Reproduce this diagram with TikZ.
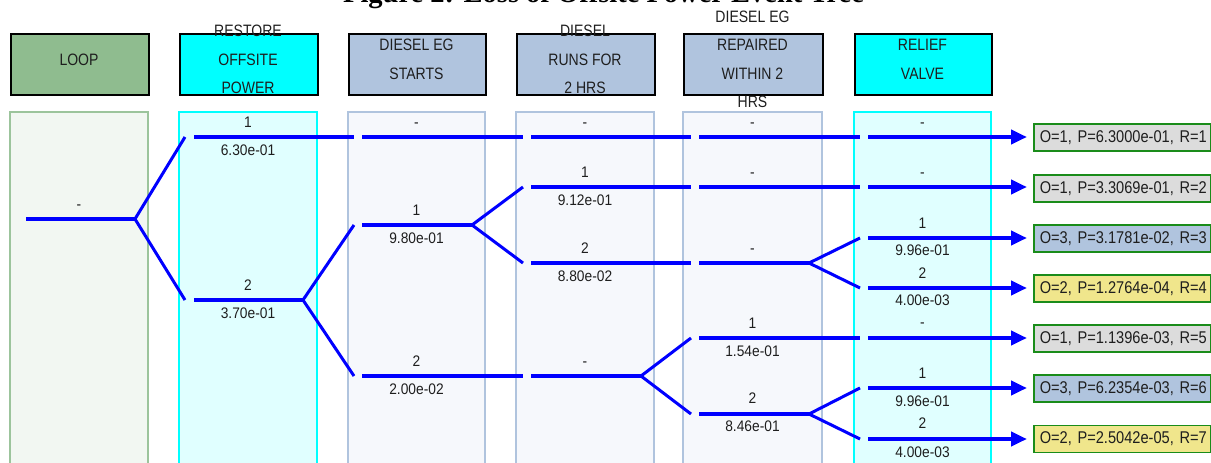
\documentclass[tikz,border=0pt]{standalone}
\usepackage{fontspec}
\setmainfont{Liberation Sans}[FakeStretch=0.9]
\newfontfamily\hdrfont{Liberation Sans}[FakeStretch=0.85]
\newfontfamily\outfont{Liberation Sans}[FakeStretch=0.86]
\newfontfamily\titlefont{Liberation Serif}
\usetikzlibrary{arrows.meta}

% palette
\definecolor{loopfill}{HTML}{8FBC8F}
\definecolor{loopbody}{HTML}{F2F7F2}
\definecolor{loopedge}{HTML}{9CC49C}
\definecolor{cyanfill}{HTML}{00FFFF}
\definecolor{cyanbody}{HTML}{E0FFFF}
\definecolor{lsbfill}{HTML}{B0C4DE}
\definecolor{lsbbody}{HTML}{F6F8FC}
\definecolor{endgray}{HTML}{DCDCDC}
\definecolor{endkhaki}{HTML}{F0E68C}
\definecolor{endedge}{HTML}{1A8C1A}
\definecolor{branchblue}{HTML}{0000FF}
\definecolor{ink}{HTML}{1E1E1E}

\tikzset{
  hdrbox/.style={draw=black, line width=2pt, minimum width=138pt, minimum height=61pt, inner sep=0pt, anchor=north west},
  hdrtext/.style={align=center, inner sep=0pt, text=ink, font=\hdrfont\fontsize{16.5}{28.5}\selectfont},
  colbody/.style={line width=2pt},
  branch/.style={draw=branchblue, line width=4.5pt},
  diag/.style={draw=branchblue, line width=3pt},
  outarrow/.style={draw=branchblue, line width=4.5pt, -{Triangle[length=16pt, width=14pt]}},
  lbl/.style={anchor=base, inner sep=0pt, text=ink, font=\fontsize{15.3}{17}\selectfont},
  outbox/.style={draw=endedge, line width=1.6pt, anchor=west, minimum height=27pt, text width=165pt, inner xsep=6pt, inner ysep=0pt, align=left, text=ink, font=\outfont\fontsize{17}{19}\selectfont},
}

\begin{document}
\begin{tikzpicture}[x=1pt, y=-1pt]
\useasboundingbox (0,0) rectangle (1211,463);
\clip (0,0) rectangle (1211,463);

% caption above the tree
\node[anchor=base, inner sep=0pt, font=\titlefont\bfseries\fontsize{28.5}{30}\selectfont] (title) at (603.5,2.5) {Figure 2: Loss of Offsite Power Event Tree};

% column bodies
\draw[colbody, draw=loopedge, fill=loopbody] (10,112) rectangle (148,480);
\draw[colbody, draw=cyanfill, fill=cyanbody] (179,112) rectangle (317,480);
\draw[colbody, draw=lsbfill, fill=lsbbody] (348,112) rectangle (485,480);
\draw[colbody, draw=lsbfill, fill=lsbbody] (516,112) rectangle (654,480);
\draw[colbody, draw=lsbfill, fill=lsbbody] (683,112) rectangle (822,480);
\draw[colbody, draw=cyanfill, fill=cyanbody] (854,112) rectangle (991,480);

% column headers
\node[hdrbox, fill=loopfill] (h1) at (10,33) {};
\node[hdrbox, fill=cyanfill] (h2) at (179,33) {};
\node[hdrbox, fill=lsbfill, minimum width=137pt] (h3) at (348,33) {};
\node[hdrbox, fill=lsbfill] (h4) at (516,33) {};
\node[hdrbox, fill=lsbfill, minimum width=139pt] (h5) at (683,33) {};
\node[hdrbox, fill=cyanfill, minimum width=137pt] (h6) at (854,33) {};
\node[hdrtext] (t1) at (79,59.5) {LOOP};
\node[hdrtext] (t2) at (248,59.5) {RESTORE\\OFFSITE\\POWER};
\node[hdrtext] (t3) at (416.5,59.5) {DIESEL EG\\STARTS};
\node[hdrtext] (t4) at (585,59.5) {DIESEL\\RUNS FOR\\2 HRS};
\node[hdrtext] (t5) at (752.5,59.5) {DIESEL EG\\REPAIRED\\WITHIN 2\\HRS};
\node[hdrtext] (t6) at (922.5,59.5) {RELIEF\\VALVE};

% ---- branch points ----
% initiating event
\coordinate (l0a) at (26,219);   \coordinate (l0b) at (135,219);
% restore offsite power
\coordinate (d1u) at (185,137);  \coordinate (d1d) at (185,300);
\coordinate (r1a) at (194,137);  \coordinate (r1b) at (354,137);
\coordinate (r2a) at (194,300);  \coordinate (r2b) at (303,300);
% diesel EG starts
\coordinate (s0a) at (362,137);  \coordinate (s0b) at (523,137);
\coordinate (d2u) at (354,225);  \coordinate (d2d) at (354,376);
\coordinate (s1a) at (362,225);  \coordinate (s1b) at (472,225);
\coordinate (s2a) at (362,376);  \coordinate (s2b) at (523,376);
% diesel runs
\coordinate (u0a) at (531,137);  \coordinate (u0b) at (691,137);
\coordinate (d3u) at (523,187);  \coordinate (d3d) at (523,263);
\coordinate (u1a) at (531,187);  \coordinate (u1b) at (691,187);
\coordinate (u2a) at (531,263);  \coordinate (u2b) at (691,263);
\coordinate (u3a) at (531,376);  \coordinate (u3b) at (641,376);
% repaired within 2 hrs
\coordinate (p0a) at (699,137);  \coordinate (p0b) at (860,137);
\coordinate (p1a) at (699,187);  \coordinate (p1b) at (860,187);
\coordinate (p2a) at (699,263);  \coordinate (p2b) at (809,263);
\coordinate (d4u) at (691,338);  \coordinate (d4d) at (691,414);
\coordinate (p3a) at (699,338);  \coordinate (p3b) at (860,338);
\coordinate (p4a) at (699,414);  \coordinate (p4b) at (809,414);
% relief valve
\coordinate (d5u) at (860,238);  \coordinate (d5d) at (860,288);
\coordinate (d6u) at (860,388);  \coordinate (d6d) at (860,439);
\coordinate (v1a) at (868,137);  \coordinate (v2a) at (868,187);
\coordinate (v3a) at (868,238);  \coordinate (v4a) at (868,288);
\coordinate (v5a) at (868,338);  \coordinate (v6a) at (868,388);
\coordinate (v7a) at (868,439);

% end states
\node[outbox, fill=endgray]  (e1) at (1033,137.5) {\mbox{O=1, P=6.3000e-01, R=1}};
\node[outbox, fill=endgray]  (e2) at (1033,188.5) {\mbox{O=1, P=3.3069e-01, R=2}};
\node[outbox, fill=lsbfill]  (e3) at (1033,238.5) {\mbox{O=3, P=3.1781e-02, R=3}};
\node[outbox, fill=endkhaki] (e4) at (1033,288.5) {\mbox{O=2, P=1.2764e-04, R=4}};
\node[outbox, fill=endgray]  (e5) at (1033,338.5) {\mbox{O=1, P=1.1396e-03, R=5}};
\node[outbox, fill=lsbfill]  (e6) at (1033,388.5) {\mbox{O=3, P=6.2354e-03, R=6}};
\node[outbox, fill=endkhaki] (e7) at (1033,439) {\mbox{O=2, P=2.5042e-05, R=7}};

% horizontal branches
\draw[branch] (l0a) -- (l0b);
\draw[branch] (r1a) -- (r1b);
\draw[branch] (r2a) -- (r2b);
\draw[branch] (s0a) -- (s0b);
\draw[branch] (s1a) -- (s1b);
\draw[branch] (s2a) -- (s2b);
\draw[branch] (u0a) -- (u0b);
\draw[branch] (u1a) -- (u1b);
\draw[branch] (u2a) -- (u2b);
\draw[branch] (u3a) -- (u3b);
\draw[branch] (p0a) -- (p0b);
\draw[branch] (p1a) -- (p1b);
\draw[branch] (p2a) -- (p2b);
\draw[branch] (p3a) -- (p3b);
\draw[branch] (p4a) -- (p4b);

% splits
\draw[diag] (d1u) -- (l0b) -- (d1d);
\draw[diag] (d2u) -- (r2b) -- (d2d);
\draw[diag] (d3u) -- (s1b) -- (d3d);
\draw[diag] (d4u) -- (u3b) -- (d4d);
\draw[diag] (d5u) -- (p2b) -- (d5d);
\draw[diag] (d6u) -- (p4b) -- (d6d);

% arrows into the end states
\draw[outarrow] (v1a) -- ([xshift=-6pt]v1a -| e1.west);
\draw[outarrow] (v2a) -- ([xshift=-6pt]v2a -| e2.west);
\draw[outarrow] (v3a) -- ([xshift=-6pt]v3a -| e3.west);
\draw[outarrow] (v4a) -- ([xshift=-6pt]v4a -| e4.west);
\draw[outarrow] (v5a) -- ([xshift=-6pt]v5a -| e5.west);
\draw[outarrow] (v6a) -- ([xshift=-6pt]v6a -| e6.west);
\draw[outarrow] (v7a) -- ([xshift=-6pt]v7a -| e7.west);

% branch labels
\node[lbl] (n0)  at (79,209)    {-};
\node[lbl] (n1)  at (248,127)   {1};
\node[lbl] (n1p) at (248,155)   {6.30e-01};
\node[lbl] (n2)  at (248,290)   {2};
\node[lbl] (n2p) at (248,318)   {3.70e-01};
\node[lbl] (n3)  at (416.5,127) {-};
\node[lbl] (n4)  at (416.5,215) {1};
\node[lbl] (n4p) at (416.5,243) {9.80e-01};
\node[lbl] (n5)  at (416.5,366) {2};
\node[lbl] (n5p) at (416.5,394) {2.00e-02};
\node[lbl] (n6)  at (585,127)   {-};
\node[lbl] (n7)  at (585,177)   {1};
\node[lbl] (n7p) at (585,205)   {9.12e-01};
\node[lbl] (n8)  at (585,253)   {2};
\node[lbl] (n8p) at (585,281)   {8.80e-02};
\node[lbl] (n9)  at (585,366)   {-};
\node[lbl] (n10) at (752.5,127) {-};
\node[lbl] (n11) at (752.5,177) {-};
\node[lbl] (n12) at (752.5,253) {-};
\node[lbl] (n13) at (752.5,328) {1};
\node[lbl] (n13p) at (752.5,356) {1.54e-01};
\node[lbl] (n14) at (752.5,403) {2};
\node[lbl] (n14p) at (752.5,431) {8.46e-01};
\node[lbl] (n15) at (922.5,127) {-};
\node[lbl] (n16) at (922.5,177) {-};
\node[lbl] (n17) at (922.5,228) {1};
\node[lbl] (n17p) at (922.5,255) {9.96e-01};
\node[lbl] (n18) at (922.5,278) {2};
\node[lbl] (n18p) at (922.5,305) {4.00e-03};
\node[lbl] (n19) at (922.5,327) {-};
\node[lbl] (n20) at (922.5,378) {1};
\node[lbl] (n20p) at (922.5,406) {9.96e-01};
\node[lbl] (n21) at (922.5,428) {2};
\node[lbl] (n21p) at (922.5,457) {4.00e-03};
\end{tikzpicture}
\end{document}
